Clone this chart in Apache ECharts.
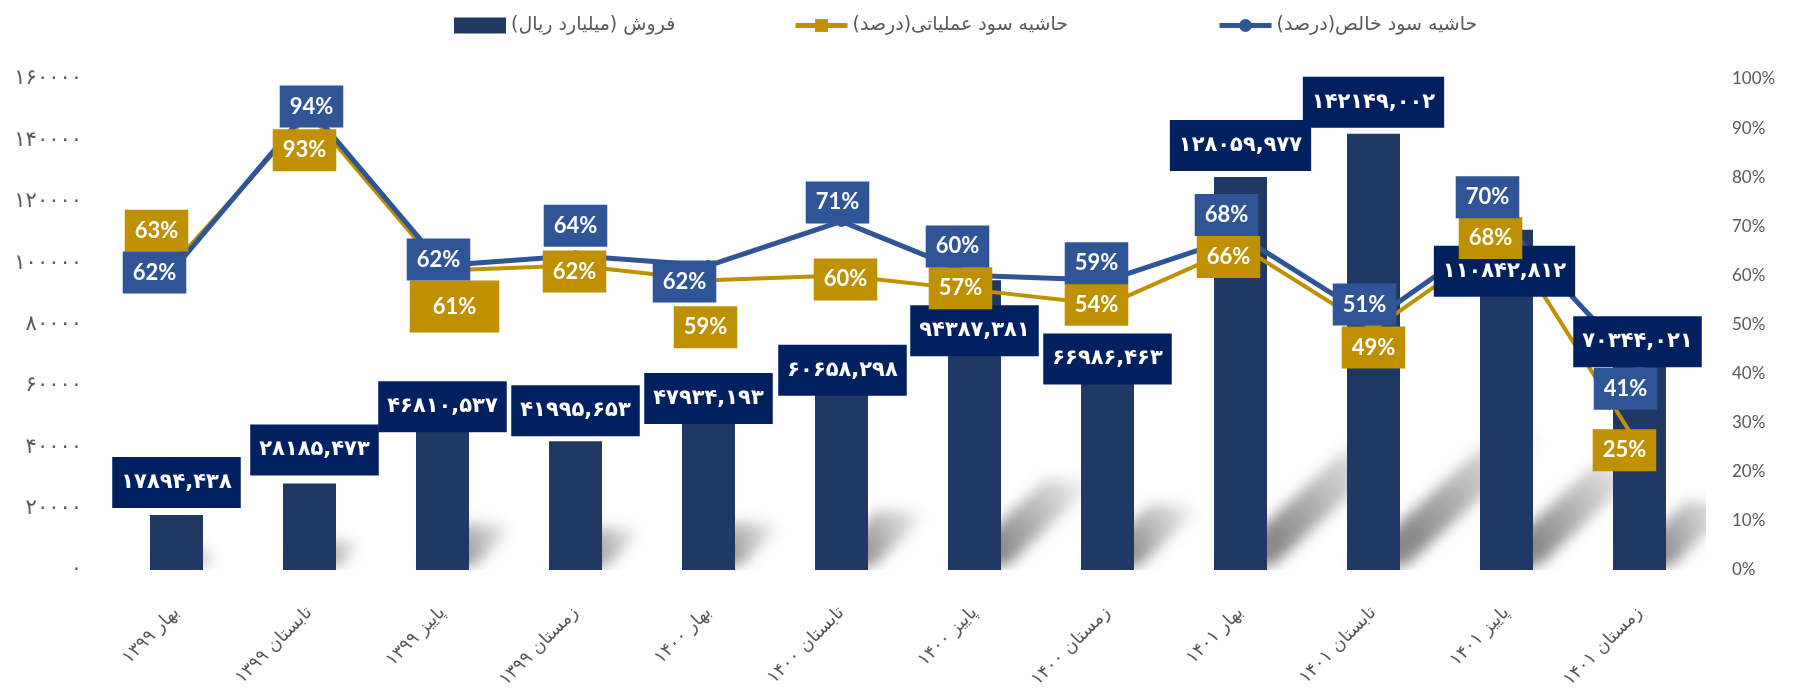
<!DOCTYPE html>
<html>
<head>
<meta charset="utf-8">
<script src="https://cdn.jsdelivr.net/npm/echarts@6/dist/echarts.min.js"></script>
<style>
  html, body { margin: 0; padding: 0; background: #fff; }
  #chart { width: 1796px; height: 694px; }
</style>
</head>
<body>
<div id="chart"></div>
<script>
// quarters (season + year)
const categories = [
  'بهار ۱۳۹۹', 'تابستان ۱۳۹۹', 'پاییز ۱۳۹۹', 'زمستان ۱۳۹۹',
  'بهار ۱۴۰۰', 'تابستان ۱۴۰۰', 'پاییز ۱۴۰۰', 'زمستان ۱۴۰۰',
  'بهار ۱۴۰۱', 'تابستان ۱۴۰۱', 'پاییز ۱۴۰۱', 'زمستان ۱۴۰۱'
];
// sales, billion rial
const sales = [17894.438, 28185.473, 46810.537, 41995.653, 47934.193, 60658.298,
  94387.381, 66986.463, 128059.977, 142149.002, 110842.812, 70344.021];
// margins, percent
const operatingMargin = [63, 93, 61, 62, 59, 60, 57, 54, 66, 49, 68, 25];
const netMargin = [62, 94, 62, 64, 62, 71, 60, 59, 68, 51, 70, 41];

const seriesNames = ['فروش (میلیارد ریال)', 'حاشیه سود عملیاتی(درصد)', 'حاشیه سود خالص(درصد)'];

// label nudges in px (the excel labels were placed by hand)
const salesShift = [[0, -7], [5, -8], [0, 6], [0, -5], [0, 1], [1, 12], [0, 76], [0, 20], [0, -6], [0, -6], [-2, 67], [-2, 13]];
const opShift = [[-20, -30], [-5, 37], [12, 36], [-1, 6], [-3, 47], [4, 4], [-14, -2], [-11, 0], [-12, 11], [0, 18], [-16, 2], [-15, 3]];
const netShift = [[-22, 7], [2, -2], [-4, -6], [0, -30], [-24, 16], [-4, -19], [-17, -29], [-11, -17], [-14, -21], [-9, -15], [-19, -29], [-14, 20]];

const BLUE = '#2F5597', GOLD = '#BF9000', NAVY = '#203864', LABEL_NAVY = '#002060';
const GREY = '#595959';

const fa = s => String(s).replace(/\d/g, d => '۰۱۲۳۴۵۶۷۸۹'[d]);
const rtl = s => '\u200F' + s + '\u200F';

function pctLabel(color) {
  return {
    show: true,
    position: 'inside',
    formatter: p => p.value + '%',
    color: '#fff',
    fontFamily: 'Lato',
    fontWeight: 'bold',
    fontSize: 22,
    lineHeight: 26,
    padding: [8, 10],
    backgroundColor: color
  };
}

// soft excel-like perspective shadow: shape drawn off to the left, only its blurred shadow lands in the plot
const SHIFT = 3000;
function renderShadow(params, api) {
  const base = api.coord([api.value(0), 0]);
  const top = api.coord([api.value(0), api.value(1)]);
  const h = base[1] - top[1];
  const w = api.size([1, 0])[0] * 0.4;
  const x0 = base[0] - w / 2 - SHIFT, x1 = base[0] + w / 2 - SHIFT, y = base[1] - 4;
  const dx = h * 0.34, dy = h * 0.3;
  return {
    type: 'polygon',
    shape: { points: [[x0 + 6, y], [x1 + 6, y], [x1 + dx, y - dy], [x0 + dx, y - dy]] },
    style: {
      fill: new echarts.graphic.LinearGradient(0, 1, 1, 0, [
        { offset: 0, color: 'rgba(0,0,0,1)' },
        { offset: 0.3, color: 'rgba(0,0,0,0.9)' },
        { offset: 1, color: 'rgba(0,0,0,0)' }
      ]),
      shadowBlur: 14,
      shadowOffsetX: SHIFT,
      shadowColor: 'rgba(0,0,0,0.5)'
    }
  };
}

const chart = echarts.init(document.getElementById('chart'));

const legendBase = {
  top: 11,
  itemWidth: 52,
  itemHeight: 16,
  itemGap: 6,
  formatter: rtl,
  textStyle: { fontFamily: 'DejaVu Sans', fontSize: 19, color: GREY }
};

const hidden = { color: 'transparent' };

chart.setOption({
  backgroundColor: '#fff',
  animation: false,
  legend: [
    Object.assign({}, legendBase, { left: 449, data: [{ name: seriesNames[0], icon: 'rect' }] }),
    Object.assign({}, legendBase, { left: 788, data: [seriesNames[1]], lineStyle: { width: 5 } }),
    Object.assign({}, legendBase, { left: 1212, data: [seriesNames[2]], lineStyle: { width: 5 } })
  ],
  grid: { left: 110, right: 90, top: 79, bottom: 124, outerBoundsMode: 'none' },
  xAxis: {
    type: 'category',
    data: categories,
    axisLine: { show: false },
    axisTick: { show: false },
    axisLabel: {
      interval: 0,
      rotate: 45,
      margin: 40,
      formatter: rtl,
      fontFamily: 'DejaVu Sans',
      fontSize: 18,
      color: GREY
    }
  },
  yAxis: [
    {
      type: 'value',
      min: 0, max: 160000, interval: 20000,
      axisLine: { show: false },
      axisTick: { show: false },
      splitLine: { show: false },
      axisLabel: { margin: 28, formatter: v => fa(v), fontFamily: 'DejaVu Sans', fontSize: 21, color: GREY }
    },
    {
      type: 'value',
      min: 0, max: 100, interval: 10,
      axisLine: { show: false },
      axisTick: { show: false },
      splitLine: { show: false },
      axisLabel: { margin: 26, formatter: v => v + '%', fontFamily: 'Lato', fontSize: 17, color: GREY }
    }
  ],
  series: [
    {
      type: 'custom',
      renderItem: renderShadow,
      clip: true,
      silent: true,
      z: 1,
      data: sales.map((v, i) => [i, v])
    },
    {
      name: seriesNames[0],
      type: 'bar',
      barWidth: 53,
      barGap: '-100%',
      z: 2,
      itemStyle: { color: NAVY },
      data: sales
    },
    {
      name: seriesNames[1],
      type: 'line',
      yAxisIndex: 1,
      z: 3,
      symbol: 'rect',
      symbolSize: 9,
      lineStyle: { color: GOLD, width: 4 },
      itemStyle: { color: GOLD },
      data: operatingMargin
    },
    {
      name: seriesNames[2],
      type: 'line',
      yAxisIndex: 1,
      z: 4,
      symbol: 'circle',
      symbolSize: 11,
      lineStyle: { color: BLUE, width: 5 },
      itemStyle: { color: BLUE },
      data: netMargin
    },
    // label carriers on an upper layer so every box sits above the lines
    {
      type: 'bar',
      zlevel: 1,
      barWidth: 53,
      barGap: '-100%',
      silent: true,
      itemStyle: hidden,
      label: {
        show: true,
        position: 'top',
        distance: 0,
        formatter: p => fa(p.value.toFixed(3)).replace('.', ','),
        color: '#fff',
        fontFamily: 'DejaVu Sans',
        fontWeight: 'bold',
        fontSize: 21,
        lineHeight: 27,
        padding: [12, 9],
        backgroundColor: LABEL_NAVY
      },
      data: sales.map((v, i) => ({ value: v, label: { offset: salesShift[i] } }))
    },
    {
      type: 'line',
      yAxisIndex: 1,
      zlevel: 1,
      z: 3,
      silent: true,
      symbol: 'circle',
      symbolSize: 1,
      lineStyle: { width: 0, opacity: 0 },
      itemStyle: hidden,
      label: pctLabel(GOLD),
      data: operatingMargin.map((v, i) => ({
        value: v,
        label: i === 2 ? { offset: opShift[i], padding: [13, 23] } : { offset: opShift[i] }
      }))
    },
    {
      type: 'line',
      yAxisIndex: 1,
      zlevel: 1,
      z: 4,
      silent: true,
      symbol: 'circle',
      symbolSize: 1,
      lineStyle: { width: 0, opacity: 0 },
      itemStyle: hidden,
      label: pctLabel(BLUE),
      data: netMargin.map((v, i) => ({ value: v, label: { offset: netShift[i] } }))
    }
  ]
});
</script>
</body>
</html>
